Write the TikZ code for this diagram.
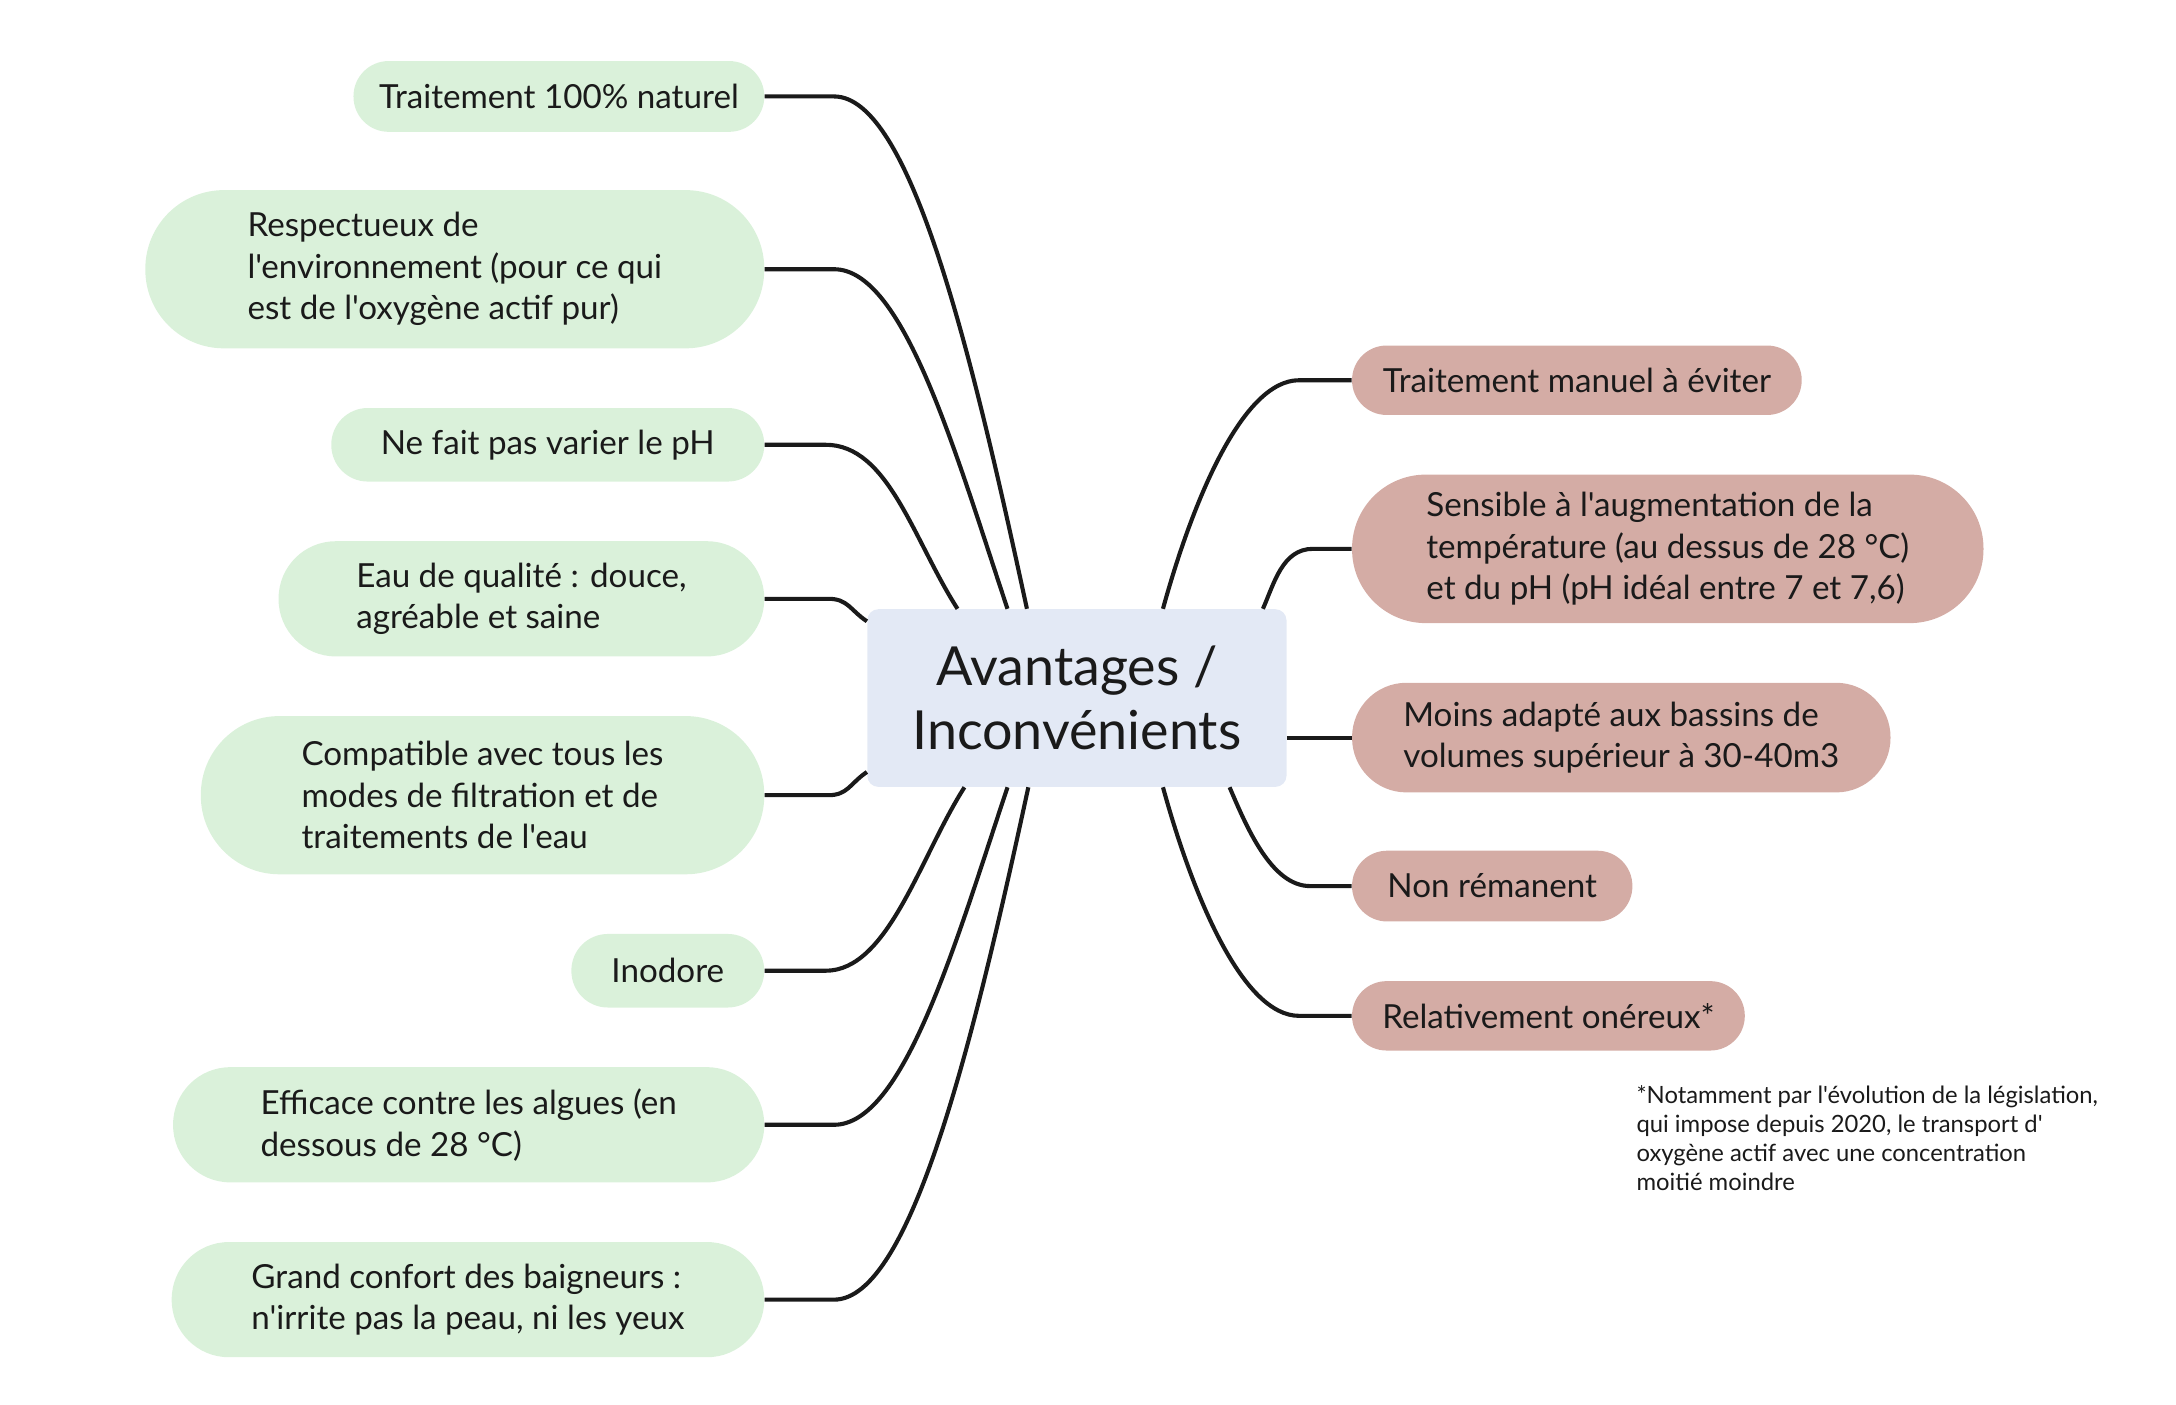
\documentclass[tikz,border=0pt]{standalone}
\usepackage{fontspec}
\setmainfont{Lato}[Ligatures=TeXOff]
\usepackage{tikz}
\definecolor{goodfill}{HTML}{DAF1DA}
\definecolor{badfill}{HTML}{D4ACA5}
\definecolor{centrefill}{HTML}{E3E9F5}
\definecolor{ink}{HTML}{1A1A1A}

\begin{document}
\begin{tikzpicture}[
  x=0.025cm, y=-0.025cm,
  pill/.style 2 args={minimum width=#1*0.025cm, minimum height=#2*0.025cm,
    rounded corners=#2*0.0124cm, inner sep=0pt, align=left,
    font=\fontsize{17}{21.3}\selectfont, text=ink},
  good/.style={fill=goodfill, anchor=east},
  bad/.style={fill=badfill, anchor=west},
  centre/.style={fill=centrefill, minimum width=7.55cm, minimum height=3.2cm,
    rounded corners=0.2cm, align=center, text=ink,
    font=\fontsize{27.6}{33}\selectfont},
  link/.style={draw=ink, line width=2.1pt},
  note/.style={anchor=north west, inner sep=0pt, align=left, text=ink,
    font=\fontsize{12.2}{14.9}\selectfont},
]
  \useasboundingbox (0,0) rectangle (1568,1012);

  % Central topic
  \node[centre] (c) at (776,503) {Avantages /\\Inconvénients};

  % Advantages
  \node[good, pill={296}{51}] (l1) at (551,69.5) {Traitement 100\% naturel};
  \node[good, pill={446}{114}] (l2) at (551,194) {Respectueux de\\l'environnement (pour ce qui\\est de l'oxygène actif pur)};
  \node[good, pill={312}{53}] (l3) at (551,320.5) {Ne fait pas varier le pH};
  \node[good, pill={350}{83}] (l4) at (551,431.5) {Eau de qualité : douce,\\agréable et saine};
  \node[good, pill={406}{114}] (l5) at (551,573) {Compatible avec tous les\\modes de filtration et de\\traitements de l'eau};
  \node[good, pill={139}{53}] (l6) at (551,699.5) {Inodore};
  \node[good, pill={426}{83}] (l7) at (551,810.5) {Efficace contre les algues (en\\dessous de 28 °C)};
  \node[good, pill={427}{83}] (l8) at (551,936.5) {Grand confort des baigneurs :\\n'irrite pas la peau, ni les yeux};

  % Drawbacks
  \node[bad, pill={324}{50}] (r1) at (974,274) {Traitement manuel à éviter};
  \node[bad, pill={455}{107}] (r2) at (974,395.5) {Sensible à l'augmentation de la\\température (au dessus de 28 °C)\\et du pH (pH idéal entre 7 et 7,6)};
  \node[bad, pill={388}{79}] (r3) at (974,531.5) {Moins adapté aux bassins de\\volumes supérieur à 30-40m3};
  \node[bad, pill={202}{51}] (r4) at (974,638.5) {Non rémanent};
  \node[bad, pill={283}{50}] (r5) at (974,732) {Relativement onéreux*};

  % Footnote
  \node[note] (fn) at (1179,782) {*Notamment par l'évolution de la législation,\\qui impose depuis 2020, le transport d'\\oxygène actif avec une concentration\\moitié moindre};

  % Links to advantages
  \draw[link] (l1.east) -- ++(50,0) .. controls +(55,0) and +(-40,-185) .. ([xshift=-0.9cm]c.north);
  \draw[link] (l2.east) -- ++(50,0) .. controls +(50,0) and +(-38,-114) .. ([xshift=-1.25cm]c.north);
  \draw[link] (l3.east) -- ++(44,0) .. controls +(45,0) and +(-32,-50) .. ([xshift=-2.15cm]c.north);
  \draw[link] (l4.east) -- ++(46,0) .. controls +(14,0) and +(-12,-8) .. ([yshift=-0.225cm]c.north west);
  \draw[link] (l5.east) -- ++(46,0) .. controls +(14,0) and +(-12,8) .. ([yshift=0.275cm]c.south west);
  \draw[link] (l6.east) -- ++(44,0) .. controls +(45,0) and +(-32,50) .. ([xshift=-2.025cm]c.south);
  \draw[link] (l7.east) -- ++(50,0) .. controls +(50,0) and +(-38,114) .. ([xshift=-1.25cm]c.south);
  \draw[link] (l8.east) -- ++(50,0) .. controls +(55,0) and +(-40,185) .. ([xshift=-0.875cm]c.south);

  % Links to drawbacks
  \draw[link] (r1.west) -- ++(-38,0) .. controls +(-40,0) and +(22,-80) .. ([xshift=1.55cm]c.north);
  \draw[link] (r2.west) -- ++(-28,0) .. controls +(-22,0) and +(8,-18) .. ([xshift=3.35cm]c.north);
  \draw[link] (c.east |- r3.west) -- (r3.west);
  \draw[link] (r4.west) -- ++(-30,0) .. controls +(-28,0) and +(12,28) .. ([xshift=2.75cm]c.south);
  \draw[link] (r5.west) -- ++(-38,0) .. controls +(-40,0) and +(22,80) .. ([xshift=1.55cm]c.south);
\end{tikzpicture}
\end{document}
